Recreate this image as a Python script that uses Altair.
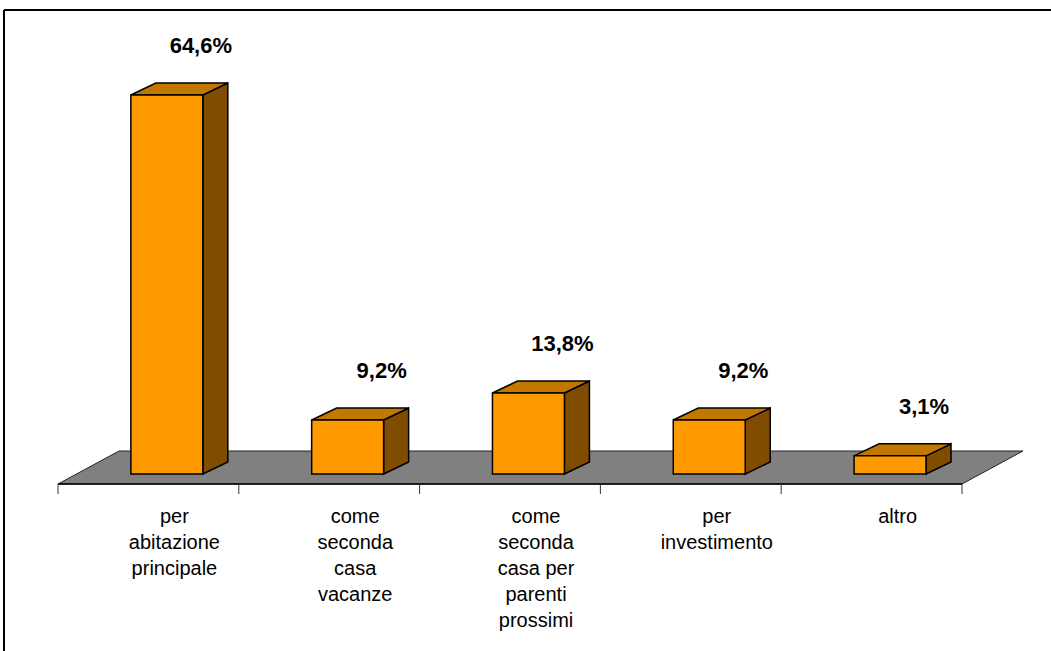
import altair as alt
import pandas as pd

# ---- data ----
categories = [
    "per\nabitazione\nprincipale",
    "come\nseconda\ncasa\nvacanze",
    "come\nseconda\ncasa per\nparenti\nprossimi",
    "per\ninvestimento",
    "altro",
]
values = [64.6, 9.2, 13.8, 9.2, 3.1]

# ---- layout constants (style) ----
W, H = 1051, 651
PX_X = 180.8          # px per category slot
PX_Y = 5.8669         # px per percentage point
X0_PX = 58            # left front corner of floor
BASE_PX = 474         # bar base line
BAR_L, BAR_R = 0.403, 0.801
DX = 25 / PX_X        # bar depth (x)
DY = 12 / PX_Y        # bar depth (y)
FLOOR_FRONT = -10 / PX_Y
FLOOR_BACK = 23 / PX_Y
FLOOR_DX = 61 / PX_X
TICK_LEN = 10 / PX_Y
LABEL_Y = (BASE_PX - 523) / PX_Y

FRONT = "#FF9900"
TOP = "#C27800"
SIDE = "#7F4C00"
FLOOR = "#808080"
FONT = "Liberation Sans"

n = len(categories)

xs = alt.Scale(domain=[-X0_PX / PX_X, (W - X0_PX) / PX_X], nice=False, zero=False)
ys = alt.Scale(domain=[(BASE_PX - H) / PX_Y, BASE_PX / PX_Y], nice=False, zero=False)

# bars table
bars = pd.DataFrame({
    "i": range(n),
    "v": values,
    "cat": categories,
})
bars["x0"] = bars["i"] + BAR_L
bars["x1"] = bars["i"] + BAR_R
bars["xc"] = (bars["x0"] + bars["x1"]) / 2
bars["base"] = 0.0
bars["label"] = bars["v"].map(lambda v: f"{v:.1f}".replace(".", ",") + "%")
bars["lx"] = bars["i"] + 0.5 + 26 / PX_X
bars["ly"] = LABEL_Y

# top faces (parallelograms as areas)
top_rows = []
side_rows = []
for _, r in bars.iterrows():
    x0, x1, v, i = r["x0"], r["x1"], r["v"], r["i"]
    top_rows += [
        {"i": i, "x": x0, "ya": v, "yb": v},
        {"i": i, "x": x0 + DX, "ya": v, "yb": v + DY},
        {"i": i, "x": x1, "ya": v, "yb": v + DY},
        {"i": i, "x": x1 + DX, "ya": v + DY, "yb": v + DY},
    ]
    side_rows += [
        {"i": i, "x": x1, "ya": 0.0, "yb": v},
        {"i": i, "x": x1 + DX, "ya": DY, "yb": v + DY},
    ]
top_df = pd.DataFrame(top_rows)
side_df = pd.DataFrame(side_rows)

floor_df = pd.DataFrame([
    {"x": 0.0, "ya": FLOOR_FRONT, "yb": FLOOR_FRONT},
    {"x": FLOOR_DX, "ya": FLOOR_FRONT, "yb": FLOOR_BACK},
    {"x": float(n), "ya": FLOOR_FRONT, "yb": FLOOR_BACK},
    {"x": n + FLOOR_DX, "ya": FLOOR_BACK, "yb": FLOOR_BACK},
])

ticks_df = pd.DataFrame({"x": [float(k) for k in range(n + 1)]})
ticks_df["ya"] = FLOOR_FRONT
ticks_df["yb"] = FLOOR_FRONT - TICK_LEN


def X(f):
    return alt.X(f, scale=xs, axis=None)


def Y(f):
    return alt.Y(f, scale=ys, axis=None, stack=None)


floor = alt.Chart(floor_df).mark_area(
    orient="vertical", fill=FLOOR, stroke="#222222", strokeWidth=1
).encode(x=X("x:Q"), y=Y("ya:Q"), y2="yb:Q")

front_edge = alt.Chart(ticks_df).mark_rule(color="black", strokeWidth=1.5).encode(
    x=alt.X("min(x):Q", scale=xs, axis=None),
    x2="max(x):Q",
    y=alt.Y("min(ya):Q", scale=ys, axis=None),
)

ticks = alt.Chart(ticks_df).mark_rule(color="#333333", strokeWidth=1).encode(
    x=X("x:Q"), y=Y("ya:Q"), y2="yb:Q"
)

side = alt.Chart(side_df).mark_area(
    orient="vertical", fill=SIDE, stroke="black", strokeWidth=1.5, fillOpacity=1
).encode(x=X("x:Q"), y=Y("ya:Q"), y2="yb:Q", detail="i:N")

top = alt.Chart(top_df).mark_area(
    orient="vertical", fill=TOP, stroke="black", strokeWidth=1.5, fillOpacity=1
).encode(x=X("x:Q"), y=Y("ya:Q"), y2="yb:Q", detail="i:N")

front = alt.Chart(bars).mark_rect(
    fill=FRONT, stroke="black", strokeWidth=1.5
).encode(x=X("x0:Q"), x2="x1:Q", y=Y("base:Q"), y2="v:Q")

value_labels = alt.Chart(bars).mark_text(
    font=FONT, fontSize=22, fontWeight="bold", color="black",
    align="center", baseline="middle", dx=34, dy=-49,
).encode(x=X("xc:Q"), y=Y("v:Q"), text="label:N")

cat_labels = alt.Chart(bars).mark_text(
    font=FONT, fontSize=20, color="black", align="center",
    baseline="alphabetic", lineBreak="\n", lineHeight=26,
).encode(x=X("lx:Q"), y=Y("ly:Q"), text="cat:N")

frame_top = alt.Chart(bars).mark_rule(color="black", strokeWidth=1.5).encode(
    x=alt.value(4), x2=alt.value(W), y=alt.value(10)
)
frame_left = alt.Chart(bars).mark_rule(color="black", strokeWidth=1.5).encode(
    x=alt.value(4), y=alt.value(10), y2=alt.value(H)
)

chart = alt.layer(
    floor, front_edge, ticks, side, top, front, value_labels, cat_labels,
    frame_top, frame_left,
).properties(
    width=W, height=H, autosize="none", padding=0, background="white"
).configure_view(stroke=None)

chart.save("out.html", embed_options={"renderer": "svg", "actions": False})
